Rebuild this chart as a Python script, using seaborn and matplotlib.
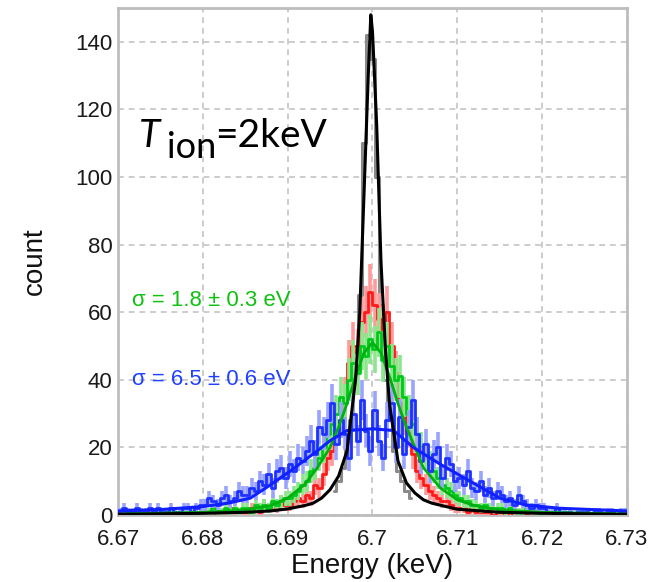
import numpy as np
import pandas as pd
import matplotlib
matplotlib.use("Agg")
import matplotlib.pyplot as plt
import seaborn as sns

# ---------------- data ----------------
x_ticks = [6.67, 6.68, 6.69, 6.70, 6.71, 6.72, 6.73]
x_tick_labels = ["6.67", "6.68", "6.69", "6.7", "6.71", "6.72", "6.73"]
y_ticks = [0, 20, 40, 60, 80, 100, 120, 140]

bin_edges = [round(6.670 + 0.0005 * i, 4) for i in range(121)]

blue_counts = [1, 2, 1, 1, 2, 1, 1, 2, 1, 2, 1, 1, 2, 1, 1, 2, 2, 1, 2, 3,
               3, 5, 4, 3, 5, 6, 4, 5, 7, 6,
               6, 8, 7, 10, 9, 12, 8, 13, 14, 11,
               15, 13, 17, 16, 19, 22, 18, 26, 24, 28,
               33, 21, 28, 24, 17, 30, 22, 34, 25, 19,
               31, 22, 17, 28, 33, 20, 29, 18, 26, 34,
               24, 16, 21, 13, 18, 20, 11, 17, 15, 10,
               11, 9, 13, 8, 7, 10, 6, 8, 5, 7,
               6, 4, 5, 3, 6, 4, 3, 2, 3, 2,
               2, 1, 1, 2, 1, 1, 1, 0, 1, 1, 1, 0, 1, 1, 0, 1, 1, 0, 1, 1]

green_counts = [0, 1, 0, 0, 1, 0, 0, 0, 1, 0, 0, 1, 0, 0, 0, 1, 0, 1, 0, 1,
                1, 1, 2, 1, 1, 2, 1, 2, 1, 2,
                2, 1, 3, 2, 3, 2, 4, 3, 4, 5,
                5, 6, 7, 9, 10, 13, 14, 17, 20, 24,
                27, 30, 35, 33, 40, 45, 42, 50, 47, 52,
                49, 54, 46, 50, 44, 40, 41, 35, 30, 27,
                24, 20, 18, 15, 13, 11, 9, 8, 7, 6,
                5, 4, 4, 3, 3, 2, 3, 2, 2, 2,
                2, 1, 2, 1, 1, 1, 2, 1, 1, 0,
                1, 0, 1, 0, 0, 1, 0, 0, 0, 0, 0, 0, 0, 0, 0, 0, 0, 0, 0, 0]

red_counts = [0, 0, 0, 1, 0, 0, 0, 0, 0, 1, 0, 0, 0, 0, 1, 0, 0, 0, 0, 1,
              0, 1, 1, 0, 1, 1, 2, 1, 1, 1,
              1, 2, 2, 1, 3, 2, 3, 2, 4, 3,
              3, 4, 5, 4, 6, 5, 9, 8, 12, 17,
              19, 24, 28, 35, 45, 50, 48, 57, 60, 66,
              62, 58, 55, 60, 50, 42, 33, 29, 25, 18,
              13, 11, 9, 7, 6, 5, 4, 4, 3, 2,
              2, 2, 1, 2, 1, 1, 1, 1, 0, 1,
              1, 0, 1, 0, 0, 1, 0, 0, 0, 0,
              0, 0, 0, 0, 0, 0, 0, 0, 0, 0, 0, 0, 0, 0, 0, 0, 0, 0, 0, 0]

gray_energy = [6.6955, 6.6960, 6.6965, 6.6970, 6.6975, 6.6980, 6.6985, 6.6990, 6.6995,
               6.7000, 6.7005, 6.7010, 6.7015, 6.7020, 6.7025, 6.7030, 6.7035, 6.7040, 6.7045]
gray_counts = [7, 10, 14, 20, 28, 42, 65, 110, 142, 135, 100, 62, 40, 28, 19, 13, 10, 7, 5]

black_energy = [6.670, 6.680, 6.685, 6.688, 6.690, 6.692, 6.693, 6.694, 6.695, 6.696, 6.697,
                6.698, 6.6985, 6.699, 6.6995, 6.6998, 6.700, 6.7005, 6.701, 6.7015, 6.702,
                6.703, 6.704, 6.705, 6.706, 6.707, 6.710, 6.715, 6.720, 6.730]
black_fit = [0.2, 0.5, 0.8, 1.2, 1.8, 2.8, 3.5, 5.0, 7.5, 11.5, 19,
             40, 60, 95, 130, 148, 143, 115, 75, 50, 33,
             16, 9.5, 6.5, 4.5, 3.5, 1.7, 0.8, 0.5, 0.2]

green_energy = [6.670, 6.680, 6.685, 6.688, 6.690, 6.692, 6.6935, 6.695, 6.696, 6.697, 6.698,
                6.699, 6.700, 6.701, 6.702, 6.703, 6.704, 6.705, 6.706, 6.708, 6.710,
                6.712, 6.715, 6.720, 6.730]
green_fit = [0.3, 0.8, 1.5, 2.8, 5, 9, 14, 20, 26, 33, 41,
             48, 51, 48, 41, 33, 26, 20, 14, 8, 4.5,
             2.8, 1.5, 0.8, 0.3]

blue_energy = [6.670, 6.675, 6.680, 6.683, 6.6856, 6.6876, 6.6903, 6.6935, 6.695, 6.697,
               6.700, 6.7025, 6.7048, 6.708, 6.7115, 6.715, 6.718, 6.722, 6.730]
blue_fit = [1.2, 1.6, 2.5, 3.5, 5, 8.3, 13, 19, 22, 25,
            25.5, 25, 20, 15, 10, 5, 3, 2, 1.2]

green_label = "σ = 1.8 ± 0.3 eV"
blue_label = "σ = 6.5 ± 0.6 eV"

# ---------------- style ----------------
sns.set_style("white")
plt.rcParams["font.family"] = ["Liberation Sans", "DejaVu Sans"]

W, H = 657, 582
fig = plt.figure(figsize=(W / 100, H / 100), dpi=100)
ax = fig.add_axes([118 / W, 1 - 515 / H, (627 - 118) / W, (515 - 8) / H])

edges = np.array(bin_edges)
centers = (edges[:-1] + edges[1:]) / 2

RED, RED_L = "#ff1a1a", "#ff9a9a"
GREEN, GREEN_L = "#00c81a", "#8ce68c"
BLUE, BLUE_L = "#1e32ff", "#9aa4ff"

# gray reference histogram
gdf = pd.DataFrame({"E": gray_energy, "n": gray_counts})
ax.step(gdf["E"], gdf["n"], where="mid", color="#8a8a8a", lw=2.2, zorder=2)

def draw_series(counts, col, light, z):
    c = np.array(counts, dtype=float)
    err = np.sqrt(c)
    m = c > 0
    ax.vlines(centers[m], c[m] - err[m], c[m] + err[m], color=light, lw=2.6, zorder=z)
    df = pd.DataFrame({"E": centers, "n": c})
    sns.histplot(data=df, x="E", weights="n", bins=list(bin_edges), element="step",
                 fill=False, color=col, linewidth=2.0, ax=ax, zorder=z + 0.5)

draw_series(red_counts, RED, RED_L, 3)
draw_series(green_counts, GREEN, GREEN_L, 4)
draw_series(blue_counts, BLUE, BLUE_L, 5)

sns.lineplot(x=green_energy, y=green_fit, color="#00b010", lw=2.0, ax=ax, zorder=7)
sns.lineplot(x=blue_energy, y=blue_fit, color="#1020ff", lw=2.2, ax=ax, zorder=7)
sns.lineplot(x=black_energy, y=black_fit, color="black", lw=2.2, ax=ax, zorder=8)

# axes
ax.set_xlim(6.67, 6.73)
ax.set_ylim(0, 150)
ax.set_xticks(x_ticks)
ax.set_xticklabels(x_tick_labels)
ax.set_yticks(y_ticks)
ax.set_yticks(np.arange(0, 151, 5), minor=True)
ax.set_xticks(np.arange(6.67, 6.7301, 0.0025), minor=True)
ax.grid(True, which="major", color="#cccccc", linestyle=(0, (3, 2.5)), lw=1.4)
ax.set_axisbelow(True)
for s in ax.spines.values():
    s.set_color("#bdbdbd")
    s.set_linewidth(2.0)
ax.tick_params(axis="both", which="major", direction="in", length=7, width=1.5,
               color="#bdbdbd", labelsize=16, labelcolor="#1a1a1a", pad=4)
ax.tick_params(axis="both", which="minor", direction="in", length=4, width=1.2,
               color="#bdbdbd")
ax.tick_params(axis="x", which="major", pad=10)
ax.set_xlabel("Energy (keV)", fontsize=20, color="#111111", labelpad=2)
ax.set_ylabel("count", fontsize=20, color="#111111", labelpad=20)

# annotations
ax.text(6.6717, 63.5, green_label, color="#10c010", fontsize=16, va="center", ha="left", zorder=9)
ax.text(6.6717, 40.0, blue_label, color="#2040ff", fontsize=16, va="center", ha="left", zorder=9)

tfont = ["Lato", "DejaVu Sans"]
fig.text(139 / W, 1 - 147 / H, "T", fontsize=28, fontstyle="italic", family=tfont,
         va="baseline", ha="left", color="black")
fig.text(167 / W, 1 - 158 / H, "ion", fontsize=26, family=tfont,
         va="baseline", ha="left", color="black")
fig.text(215 / W, 1 - 147 / H, "=2keV", fontsize=28, family=tfont,
         va="baseline", ha="left", color="black")

fig.savefig("out.png", dpi=100)
